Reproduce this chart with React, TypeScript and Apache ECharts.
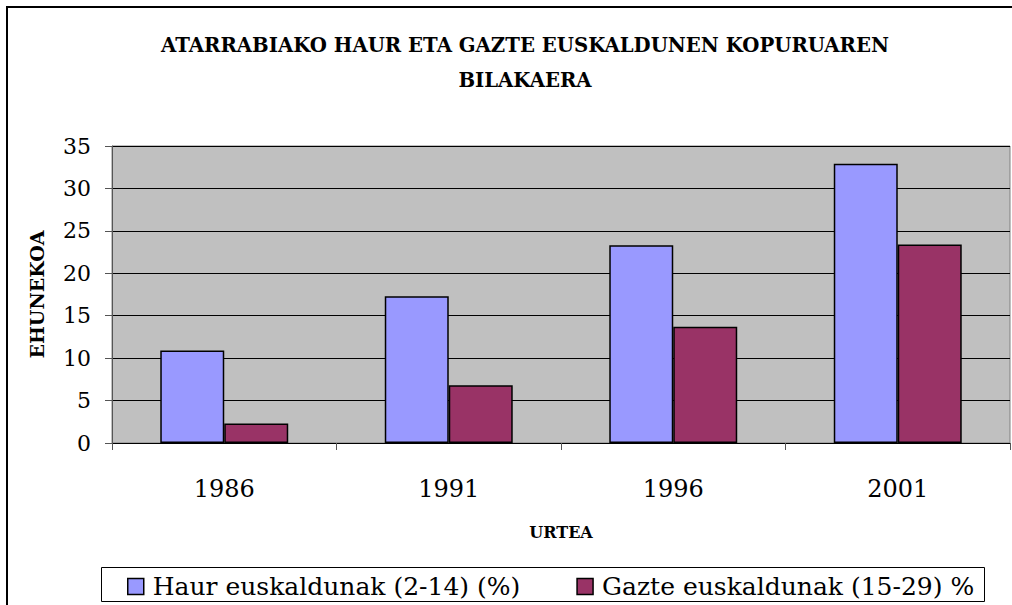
import React, { useEffect, useRef } from "react";
import * as echarts from "echarts";

const categories = ["1986", "1991", "1996", "2001"];
const haurValues = [10.9, 17.3, 23.3, 32.9];
const gazteValues = [2.3, 6.8, 13.7, 23.4];
const seriesNames = ["Haur euskaldunak (2-14) (%)", "Gazte euskaldunak (15-29) %"];
const titleText = "ATARRABIAKO HAUR ETA GAZTE EUSKALDUNEN KOPURUAREN\nBILAKAERA";
const yAxisName = "EHUNEKOA";
const xAxisName = "URTEA";

const FONT = "'DejaVu Serif', serif";

export default function App() {
  const ref = useRef<HTMLDivElement>(null);
  useEffect(() => {
    if (!ref.current) return;
    const chart = echarts.init(ref.current, null, { renderer: "svg" });
    chart.setOption({
      animation: false,
      backgroundColor: "#ffffff",
      textStyle: { fontFamily: FONT },
      title: {
        text: titleText,
        left: 520,
        textAlign: "center",
        top: 23,
        textStyle: { fontFamily: FONT, fontSize: 19.7, fontWeight: "bold", color: "#000", lineHeight: 35 },
      },
      graphic: [
        {
          type: "rect",
          shape: { x: 7, y: 7, width: 1020, height: 620 },
          style: { fill: "none", stroke: "#000", lineWidth: 2 },
          silent: true,
        },
        {
          type: "rect",
          shape: { x: 101.5, y: 567.5, width: 883, height: 34 },
          style: { fill: "#fff", stroke: "#000", lineWidth: 1 },
          silent: true,
          z: 0,
        },
      ],
      legend: {
        left: 122,
        top: 569,
        padding: 5,
        itemWidth: 16,
        itemHeight: 16,
        itemGap: 56,
        icon: "rect",
        z: 10,
        data: seriesNames.map((n) => ({ name: n, itemStyle: { borderColor: "#000", borderWidth: 1.5 } })),
        textStyle: { fontFamily: FONT, fontSize: 25, color: "#000", padding: [0, 0, 0, 4] },
      },
      grid: {
        left: 112,
        right: 2,
        top: 146,
        bottom: 162,
        show: true,
        backgroundColor: "#C0C0C0",
        borderColor: "#808080",
        borderWidth: 1,
      },
      xAxis: {
        type: "category",
        data: categories,
        name: xAxisName,
        nameLocation: "middle",
        nameGap: 81,
        nameTextStyle: { fontFamily: FONT, fontSize: 16, fontWeight: "bold", color: "#000" },
        axisLine: { show: true, lineStyle: { color: "#000", width: 1 } },
        axisTick: { show: true, length: 7, inside: false, lineStyle: { color: "#555" } },
        axisLabel: { fontFamily: FONT, fontSize: 24, color: "#000", margin: 34 },
      },
      yAxis: {
        type: "value",
        min: 0,
        max: 35,
        interval: 5,
        name: yAxisName,
        nameLocation: "middle",
        nameGap: 66,
        nameRotate: 90,
        nameTextStyle: { fontFamily: FONT, fontSize: 19, fontWeight: "bold", color: "#000" },
        axisLine: { show: true, lineStyle: { color: "#555", width: 1 } },
        axisTick: { show: true, length: 7, lineStyle: { color: "#555" } },
        axisLabel: { fontFamily: FONT, fontSize: 22, color: "#000", margin: 21 },
        splitLine: { show: true, lineStyle: { color: "#000", width: 1 } },
      },
      series: [
        {
          name: seriesNames[0],
          type: "bar",
          data: haurValues,
          barGap: "0%",
          barCategoryGap: "43%",
          itemStyle: { color: "#9999FF", borderColor: "#000", borderWidth: 1.5 },
        },
        {
          name: seriesNames[1],
          type: "bar",
          data: gazteValues,
          itemStyle: { color: "#993366", borderColor: "#000", borderWidth: 1.5 },
        },
      ],
    });
    return () => chart.dispose();
  }, []);
  return (
    <div
      ref={ref}
      style={{ position: "absolute", left: 0, top: 0, width: 1012, height: 605 }}
    />
  );
}
